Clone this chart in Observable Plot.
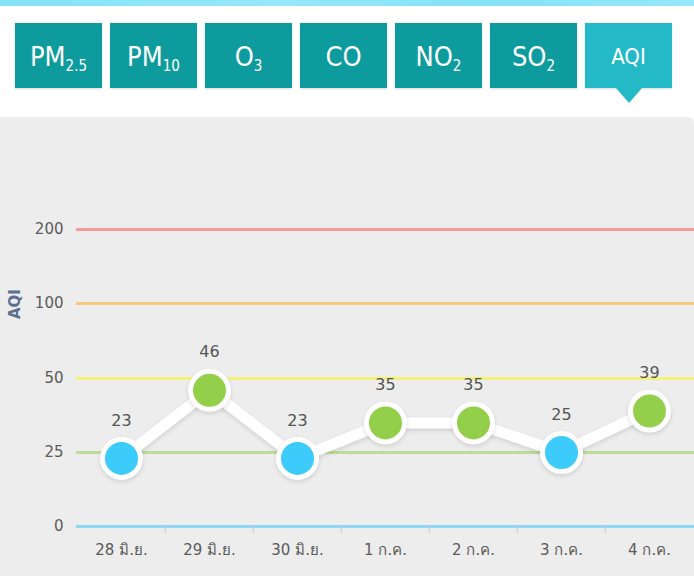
<!DOCTYPE html>
<html>
<head>
<meta charset="utf-8">
<script src="https://cdn.jsdelivr.net/npm/d3@7"></script>
<script src="https://cdn.jsdelivr.net/npm/@observablehq/plot@0.6"></script>
<style>
  html, body { margin: 0; padding: 0; background: #ffffff; }
  body { width: 694px; height: 576px; position: relative; overflow: hidden; font-family: Tahoma, "DejaVu Sans", "Noto Sans", sans-serif; }
  #stripe { position: absolute; left: 0; top: 0; width: 694px; height: 6px; background: linear-gradient(90deg, #86e2f6, #94e8fa 40%, #86e2f6 70%, #94e8fa); }
  #tabs { position: absolute; left: 15px; top: 23px; display: flex; }
  .tab { width: 87px; height: 65px; margin-right: 8px; background: #0e9b9d; color: #fff; display: flex; align-items: center; justify-content: center; font-family: "Liberation Sans Narrow", "DejaVu Sans Condensed", "Open Sans", sans-serif; font-size: 27px; position: relative; box-shadow: 0 1px 2px rgba(0,0,0,0.15); }
  .tab span { display: inline-block; padding-top: 2px; }
  .tab sub { font-size: 15px; vertical-align: -5px; line-height: 0; }
  .tab.active { background: #24b9c7; font-size: 22px; }
  .tab.active::after { content: ""; position: absolute; left: 50%; top: 65px; margin-left: -13px; border-left: 13px solid transparent; border-right: 13px solid transparent; border-top: 15px solid #24b9c7; }
  #panel { position: absolute; left: 0; top: 117px; width: 694px; height: 459px; background: #ededed; border-top-right-radius: 6px; }
  #ylabel { position: absolute; left: 2px; top: 296px; width: 26px; height: 20px; transform: rotate(-90deg); transform-origin: center; color: #5b6f90; font-size: 15px; font-weight: bold; text-align: center; line-height: 20px; }
  #chart { position: absolute; left: 0; top: 0; }
  #chart g[aria-label="dot"], #chart g[aria-label="line"] { filter: drop-shadow(0 2px 2px rgba(0,0,0,0.12)); }
</style>
</head>
<body>
<div id="stripe"></div>
<div id="tabs">
  <div class="tab"><span>PM<sub>2.5</sub></span></div>
  <div class="tab"><span>PM<sub>10</sub></span></div>
  <div class="tab"><span>O<sub>3</sub></span></div>
  <div class="tab"><span>CO</span></div>
  <div class="tab"><span>NO<sub>2</sub></span></div>
  <div class="tab"><span>SO<sub>2</sub></span></div>
  <div class="tab active"><span>AQI</span></div>
</div>
<div id="panel"><div id="chart"></div></div>
<div id="ylabel">AQI</div>
<script>
const days = ["28 มิ.ย.", "29 มิ.ย.", "30 มิ.ย.", "1 ก.ค.", "2 ก.ค.", "3 ก.ค.", "4 ก.ค."];
const aqi = [23, 46, 23, 35, 35, 25, 39];
const yTicks = [0, 25, 50, 100, 200];
const levelColors = ["#8fd8f2", "#bcdd98", "#f4f078", "#f6c77c", "#f39b98"];
const pointColors = { good: "#3ccbfb", moderate: "#93cf4b" };

const data = days.map((d, i) => ({ day: d, aqi: aqi[i] }));
const levels = yTicks.map((v, i) => ({ v, c: levelColors[i] }));

const W = 694, H = 459, ML = 76, MR = 0, MB = 50;
const bw = (W - ML - MR) / days.length;

const chart = Plot.plot({
  width: W,
  height: H,
  marginLeft: ML,
  marginRight: MR,
  marginTop: 0,
  marginBottom: MB,
  style: { background: "transparent", fontFamily: "Tahoma, 'DejaVu Sans', sans-serif", fontSize: "15px", color: "#5a5a5a", overflow: "visible" },
  x: { type: "band", domain: days, padding: 0, label: null },
  y: { type: "linear", domain: yTicks, range: [409, 335, 261, 186, 112], label: null },
  color: { type: "identity" },
  marks: [
    Plot.ruleY(levels, { y: "v", stroke: "c", strokeWidth: 3 }),
    Plot.ruleX(days.slice(1), { x: d => d, dx: -bw / 2, y1: 0, y2: 0, insetBottom: -7, stroke: "#c9d2de", strokeWidth: 1.5 }),
    Plot.axisX({ tickSize: 0, tickPadding: 18, fontSize: 15, label: null }),
    Plot.axisY({ ticks: yTicks, tickSize: 0, tickPadding: 13, tickFormat: d => String(d), fontSize: 15, label: null }),
    Plot.line(data, { x: "day", y: "aqi", stroke: "#ffffff", strokeWidth: 11, strokeLinejoin: "round" }),
    Plot.dot(data, { x: "day", y: "aqi", r: 19, fill: d => d.aqi <= 25 ? pointColors.good : pointColors.moderate, stroke: "#ffffff", strokeWidth: 5 }),
    Plot.text(data, { x: "day", y: "aqi", text: d => String(d.aqi), dy: -38, fontSize: 16, fill: "#555555" })
  ]
});
document.getElementById("chart").appendChild(chart);
</script>
</body>
</html>
